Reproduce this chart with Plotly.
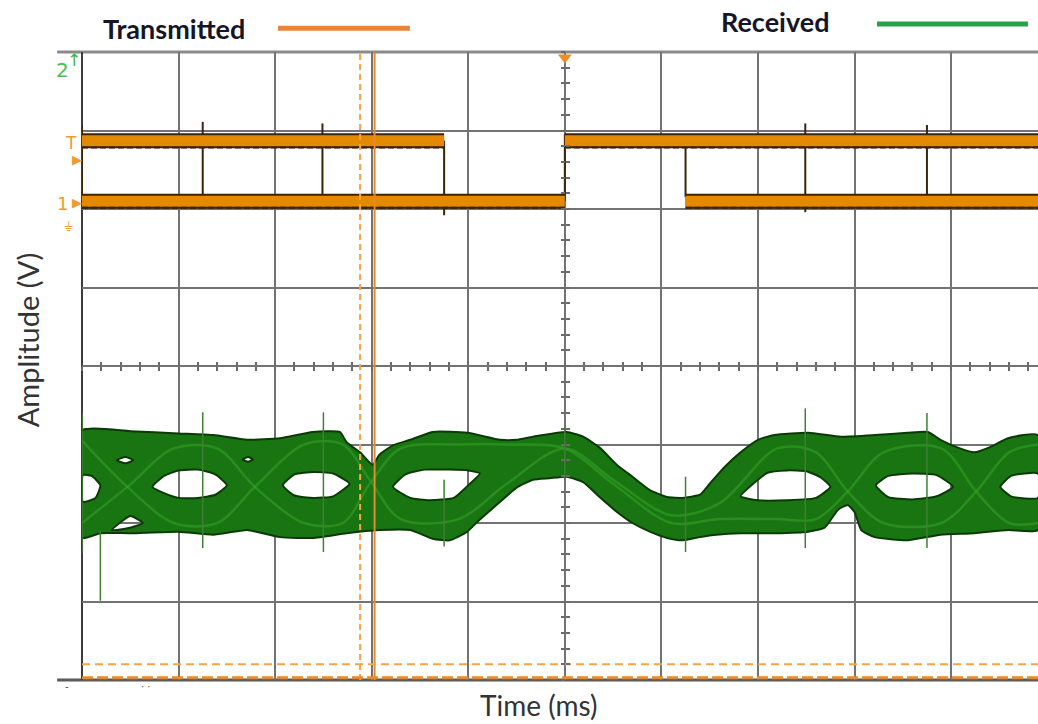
import plotly.graph_objects as go

# ---------------- data (time and amplitude in screen divisions) ----------------
# Channel 1 - transmitted logic signal
tx_high = 2.87
tx_low = 2.10
tx_high_spans = [[0.0, 3.75], [5.0, 9.9]]
tx_low_spans = [[0.0, 5.0], [6.25, 9.9]]
tx_edge_t = [0.0, 1.25, 2.49, 3.75, 5.0, 6.25, 7.49, 8.75]
tx_edge_top = [3.07, 3.11, 3.09, 2.87, 2.95, 2.82, 3.09, 3.07]
tx_edge_bottom = [2.01, 2.01, 2.01, 1.92, 2.10, 2.15, 1.96, 2.00]

# Channel 2 - received eye pattern, outer envelope
rx_top_t = [0.0, 0.5, 1.0, 1.36, 1.71, 2.05, 2.39, 2.67, 2.74, 2.88, 3.01, 3.08, 3.22, 3.40, 3.63,
            3.99, 4.33, 4.50, 4.67, 5.02, 5.19, 5.36, 5.54, 5.70, 5.88, 6.06, 6.22, 6.40, 6.50, 6.66,
            6.82, 7.00, 7.17, 7.52, 7.86, 8.21, 8.55, 8.76, 8.89, 9.07, 9.24, 9.41, 9.59, 9.9]
rx_top_v = [-0.82, -0.83, -0.86, -0.88, -0.94, -0.92, -0.84, -0.84, -0.97, -1.10, -1.26, -1.13, -1.01, -0.94, -0.84,
            -0.85, -0.94, -0.94, -0.90, -0.84, -0.90, -1.04, -1.26, -1.41, -1.58, -1.67, -1.68, -1.64, -1.50, -1.28,
            -1.10, -0.94, -0.88, -0.85, -0.90, -0.88, -0.85, -0.84, -0.94, -1.04, -1.10, -1.03, -0.92, -0.88]
rx_bottom_t = [0.0, 0.19, 0.5, 1.0, 1.36, 1.71, 2.05, 2.39, 2.74, 3.08, 3.40, 3.63, 3.81, 3.99, 4.09,
               4.33, 4.50, 4.67, 4.84, 5.02, 5.19, 5.36, 5.54, 5.70, 5.88, 6.06, 6.22, 6.40, 6.57, 6.82,
               7.17, 7.52, 7.69, 7.83, 7.93, 8.00, 8.07, 8.21, 8.55, 8.89, 9.24, 9.59, 9.9]
rx_bottom_v = [-2.19, -2.13, -2.13, -2.11, -2.15, -2.09, -2.18, -2.19, -2.13, -2.09, -2.09, -2.20, -2.22, -2.11, -1.99,
               -1.73, -1.55, -1.45, -1.43, -1.41, -1.48, -1.67, -1.86, -2.00, -2.11, -2.19, -2.22, -2.18, -2.15, -2.13,
               -2.13, -2.11, -2.06, -1.83, -1.77, -1.86, -2.09, -2.18, -2.22, -2.15, -2.13, -2.09, -2.09]

# eye openings (left tip, upper edge, right tip, lower edge)
eye_t = [
    [0.01, 0.10, 0.19, 0.14, 0.01],
    [0.73, 0.85, 1.0, 1.2, 1.38, 1.50, 1.38, 1.2, 1.0, 0.85],
    [2.08, 2.2, 2.4, 2.6, 2.77, 2.6, 2.4, 2.2],
    [3.22, 3.35, 3.55, 3.8, 4.0, 4.12, 4.0, 3.85, 3.6, 3.4],
    [6.82, 6.95, 7.1, 7.3, 7.5, 7.65, 7.75, 7.6, 7.3, 7.0],
    [8.22, 8.35, 8.6, 8.85, 9.02, 8.85, 8.6, 8.35],
    [9.51, 9.62, 9.9, 9.9, 9.62],
    [0.36, 0.45, 0.53, 0.45],
    [0.31, 0.50, 0.63, 0.50],
    [1.66, 1.72, 1.77, 1.72],
]
eye_v = [
    [-1.39, -1.40, -1.52, -1.68, -1.73],
    [-1.54, -1.40, -1.33, -1.32, -1.38, -1.52, -1.64, -1.68, -1.68, -1.62],
    [-1.52, -1.38, -1.35, -1.37, -1.50, -1.66, -1.68, -1.65],
    [-1.54, -1.38, -1.32, -1.32, -1.33, -1.37, -1.52, -1.68, -1.71, -1.68],
    [-1.66, -1.50, -1.36, -1.33, -1.34, -1.42, -1.54, -1.68, -1.71, -1.71],
    [-1.52, -1.40, -1.37, -1.39, -1.54, -1.66, -1.70, -1.67],
    [-1.54, -1.40, -1.37, -1.68, -1.66],
    [-1.20, -1.16, -1.20, -1.24],
    [-2.09, -1.91, -2.00, -2.06],
    [-1.19, -1.16, -1.19, -1.22],
]

# individual bit transitions visible inside the received band
strand_t = [0.0, 0.47, 0.95, 1.4, 1.79, 2.3, 2.7, 2.98, 3.3, 3.9, 4.4, 5.0, 5.5, 6.1, 6.6, 7.2, 7.6, 7.93,
            8.3, 8.9, 9.26, 9.6, 9.9]
strand_a_v = [-0.95, -1.54, -2.0, -2.0, -1.54, -1.0, -1.0, -1.45, -1.95, -1.95, -1.5, -1.05, -1.45, -1.9,
              -1.75, -1.05, -1.1, -1.6, -2.0, -2.0, -1.6, -1.1, -1.0]
strand_b_v = [-2.0, -1.54, -1.05, -1.05, -1.54, -2.0, -2.0, -1.5, -1.05, -1.0, -1.0, -1.05, -1.5, -2.0,
              -1.95, -1.95, -1.95, -1.6, -1.1, -1.05, -1.6, -2.0, -2.0]

# crosstalk spikes on channel 2
spike_t = [0.0, 0.19, 1.25, 2.50, 3.75, 5.0, 6.25, 7.49, 8.75]
spike_top = [-0.60, -2.10, -0.59, -0.59, -1.45, -0.78, -1.41, -0.54, -0.60]
spike_bottom = [-2.38, -2.99, -2.32, -2.37, -2.30, -1.45, -2.37, -2.32, -2.32]

# cursors and trigger
cursor_t_dashed = 2.88
cursor_t_solid = 3.03
cursor_v_dashed = -3.80
cursor_v_solid = -3.97
trigger_t = 5.0
trigger_v = 3.93

T_MAX = 9.9

ORANGE = '#e38a00'
BROWN = '#3b2408'
GREEN_FILL = '#197512'
GREEN_EDGE = '#0a3a05'

fig = go.Figure()

# ---- received eye pattern (filled band with eye openings cut out) ----
band_x = rx_top_t + rx_bottom_t[::-1] + [rx_top_t[0]]
band_y = rx_top_v + rx_bottom_v[::-1] + [rx_top_v[0]]
for et, ev in zip(eye_t, eye_v):
    et_r, ev_r = et[::-1], ev[::-1]
    band_x += [None] + et_r + [et_r[0]]
    band_y += [None] + ev_r + [ev_r[0]]
fig.add_trace(go.Scatter(
    x=band_x, y=band_y, mode='lines', fill='toself', fillcolor=GREEN_FILL,
    line=dict(color=GREEN_EDGE, width=2, shape='spline', smoothing=0.5),
    hoverinfo='skip', showlegend=False))

for sv in (strand_a_v, strand_b_v):
    fig.add_trace(go.Scatter(
        x=strand_t, y=sv, mode='lines',
        line=dict(color='#38a829', width=2.5, shape='spline', smoothing=0.9),
        opacity=0.5, hoverinfo='skip', showlegend=False))

sx, sy = [], []
for t, a, b in zip(spike_t, spike_top, spike_bottom):
    sx += [t, t, None]
    sy += [a, b, None]
fig.add_trace(go.Scatter(x=sx, y=sy, mode='lines', line=dict(color='#3f7f33', width=1.5),
                         hoverinfo='skip', showlegend=False))

# ---- transmitted logic signal ----
ex, ey = [], []
for t, a, b in zip(tx_edge_t, tx_edge_top, tx_edge_bottom):
    ex += [t, t, None]
    ey += [a, b, None]
fig.add_trace(go.Scatter(x=ex, y=ey, mode='lines', line=dict(color=BROWN, width=2),
                         hoverinfo='skip', showlegend=False))

lx, ly = [], []
for lvl, spans in ((tx_high, tx_high_spans), (tx_low, tx_low_spans)):
    for a, b in spans:
        lx += [a, b, None]
        ly += [lvl, lvl, None]
fig.add_trace(go.Scatter(x=lx, y=ly, mode='lines', line=dict(color=BROWN, width=15),
                         hoverinfo='skip', showlegend=False))
fig.add_trace(go.Scatter(x=lx, y=ly, mode='lines', line=dict(color=ORANGE, width=11),
                         hoverinfo='skip', showlegend=False))
# noise underneath the logic levels
nx, ny = [], []
for lvl, spans in ((tx_high, tx_high_spans), (tx_low, tx_low_spans)):
    for a, b in spans:
        nx += [a, b, None]
        ny += [lvl - 0.085, lvl - 0.085, None]
fig.add_trace(go.Scatter(x=nx, y=ny, mode='lines', line=dict(color=BROWN, width=2, dash='6px,3px'),
                         hoverinfo='skip', showlegend=False))

# ---- cursors ----
fig.add_trace(go.Scatter(x=[cursor_t_dashed, cursor_t_dashed], y=[-4, 4], mode='lines',
                         line=dict(color='#f7a445', width=2, dash='6px,4px'),
                         hoverinfo='skip', showlegend=False))
fig.add_trace(go.Scatter(x=[cursor_t_solid, cursor_t_solid], y=[-4, 4], mode='lines',
                         line=dict(color='#e8892a', width=2),
                         hoverinfo='skip', showlegend=False))
fig.add_trace(go.Scatter(x=[0, T_MAX], y=[cursor_v_dashed, cursor_v_dashed], mode='lines',
                         line=dict(color='#f7a445', width=2, dash='8px,5px'),
                         hoverinfo='skip', showlegend=False))
fig.add_trace(go.Scatter(x=[0, T_MAX], y=[cursor_v_solid, cursor_v_solid], mode='lines',
                         line=dict(color='#e8892a', width=3, dash='11px,4px'),
                         hoverinfo='skip', showlegend=False))
fig.add_trace(go.Scatter(x=[trigger_t], y=[trigger_v], mode='markers',
                         marker=dict(symbol='triangle-down', size=12, color='#f28c28'),
                         cliponaxis=False, hoverinfo='skip', showlegend=False))

# anchor traces for the graticule centre-line tick axes
for xa, ya in (('x2', 'y'), ('x3', 'y'), ('x', 'y2'), ('x', 'y3')):
    fig.add_trace(go.Scatter(x=[None], y=[None], xaxis=xa, yaxis=ya, showlegend=False, hoverinfo='skip'))

GRID = '#737373'
axis_common = dict(showticklabels=False, zeroline=False, showline=False)
centre_tick = dict(showgrid=False, dtick=0.2, tick0=0, ticklen=4, tickwidth=2, tickcolor='#6a6a6a',
                   anchor='free', position=0.5, **axis_common)
fig.update_layout(
    width=1038, height=724,
    margin=dict(l=82, r=0, t=52, b=44),
    paper_bgcolor='white', plot_bgcolor='white',
    showlegend=False,
    xaxis=dict(range=[0, T_MAX], dtick=1, tick0=0, showgrid=True, gridcolor=GRID, gridwidth=1.6,
               ticks='', **axis_common),
    yaxis=dict(range=[-4, 4], dtick=1, tick0=0, showgrid=True, gridcolor=GRID, gridwidth=1.6,
               ticks='', **axis_common),
    xaxis2=dict(overlaying='x', range=[0, T_MAX], ticks='outside', **centre_tick),
    xaxis3=dict(overlaying='x', range=[0, T_MAX], ticks='inside', **centre_tick),
    yaxis2=dict(overlaying='y', range=[-4, 4], ticks='outside',
                **{**centre_tick, 'position': trigger_t / T_MAX}),
    yaxis3=dict(overlaying='y', range=[-4, 4], ticks='inside',
                **{**centre_tick, 'position': trigger_t / T_MAX}),
)

# frame of the graticule
fig.add_shape(type='line', xref='paper', yref='paper', x0=-0.026, x1=1, y0=1, y1=1,
              line=dict(color='#8a8a8a', width=3), layer='between')
fig.add_shape(type='line', xref='paper', yref='paper', x0=-0.026, x1=1, y0=0, y1=0,
              line=dict(color='#5a5a5a', width=3), layer='between')
fig.add_shape(type='line', xref='paper', yref='paper', x0=0, x1=0, y0=0, y1=1,
              line=dict(color='#3c3c3c', width=2), layer='between')


def label(text, x, y, size, color, family='Lato', angle=0):
    fig.add_annotation(text=text, xref='paper', yref='paper', x=x, y=y, xanchor='center',
                       yanchor='middle', showarrow=False, textangle=angle,
                       font=dict(family=family, size=size, color=color))


# legend
label('<b>Transmitted</b>', 0.0962, 1.038, 27, '#15152a')
fig.add_shape(type='line', xref='paper', yref='paper', x0=0.205, x1=0.343, y0=1.038, y1=1.038,
              line=dict(color='#e8843c', width=5))
label('<b>Received</b>', 0.725, 1.048, 27, '#15152a')
fig.add_shape(type='line', xref='paper', yref='paper', x0=0.8316, x1=0.9895, y0=1.0446, y1=1.0446,
              line=dict(color='#27a348', width=5))

# axis titles
label('Amplitude (V)', -0.0575, 0.541, 29, '#333333', angle=-90)
label('Time (ms)', 0.477, -0.040, 28, '#333333')

# channel markers at the left edge
marks = [
    ('2', -0.0199, 0.972, '#4cc24c', 20),
    ('↑', -0.0084, 0.987, '#3cb83c', 17),
    ('T', -0.0115, 0.855, '#f09a30', 17),
    ('▶', -0.0055, 0.829, '#f09a30', 13),
    ('1', -0.0199, 0.759, '#f09a30', 18),
    ('▶', -0.0055, 0.760, '#f09a30', 13),
    ('⏚', -0.0146, 0.722, '#f09a30', 13),
    ('-', -0.016, -0.011, '#555555', 10),
    ('· ·', 0.067, -0.011, '#555555', 10),
]
for txt, x, y, c, s in marks:
    label(txt, x, y, s, c, family='DejaVu Sans')

fig.write_html('out.html')
